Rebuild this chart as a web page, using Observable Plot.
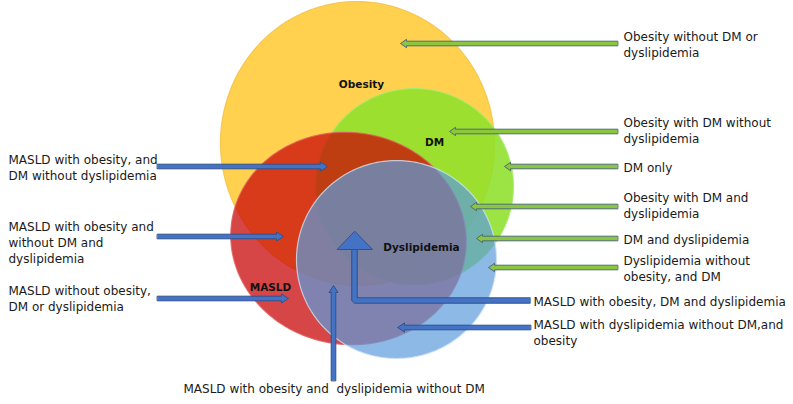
<!DOCTYPE html>
<html><head><meta charset="utf-8">
<script src="https://cdn.jsdelivr.net/npm/d3@7"></script>
<script src="https://cdn.jsdelivr.net/npm/@observablehq/plot@0.6"></script>
<style>body{margin:0;background:#fff}svg text{white-space:pre}</style>
</head><body><div id="chart"></div>
<script>
// Sets (ellipses)
const setNames = ["Obesity", "DM", "MASLD", "Dyslipidemia"];
const setCx = [357, 414, 348, 396];
const setCy = [143, 186, 238, 259];
const setRx = [137, 99, 118, 100];
const setRy = [142, 98, 106, 99];
const setRot = [4, 0, -8, 0];
const setFill = ["#ffc930", "#8ee02a", "#c90808", "#5b9bdb"];
const setOpacity = [0.85, 0.88, 0.75, 0.7];
const setEdge = ["#f3c040", "#a8ec70", "#e06060", "#cfe2f5"];
// Set title labels
const setLabelX = [361, 434, 270, 421];
const setLabelY = [84, 142, 287, 247];

// Region labels
const labelText = [
  "Obesity without DM or\ndyslipidemia",
  "Obesity with DM without\ndyslipidemia",
  "DM only",
  "Obesity with DM and\ndyslipidemia",
  "DM and dyslipidemia",
  "Dyslipidemia without\nobesity, and DM",
  "MASLD with obesity, DM and dyslipidemia",
  "MASLD with dyslipidemia without DM,and\nobesity",
  "MASLD with obesity, and\nDM without dyslipidemia",
  "MASLD with obesity and\nwithout DM and\ndyslipidemia",
  "MASLD without obesity,\nDM or dyslipidemia",
  "MASLD with obesity and  dyslipidemia without DM"
];
const labelX = [623, 623, 623, 623, 623, 623, 533, 533, 8, 8, 8, 183];
const labelY = [43, 129.5, 166, 204.5, 238, 267.5, 300, 331.5, 166, 241.5, 297, 387];

// Straight arrows: tail -> tip
const arrowX1 = [617, 617, 617, 617, 617, 617, 157, 157, 157, 530, 333];
const arrowY1 = [43, 131, 166, 206, 238, 267, 166, 236, 298, 327, 380];
const arrowX2 = [400, 449, 504, 470, 476, 488, 327, 283, 288, 397, 333];
const arrowY2 = [43, 131, 166, 206, 238, 267, 166, 236, 298, 327, 285];
const arrowKind = ["g", "g", "g", "g", "g", "g", "b", "b", "b", "b", "b"];
// Elbow arrow (MASLD with obesity, DM and dyslipidemia)
const elbowX = [530, 354, 354];
const elbowY = [300, 300, 249];
const elbowHeadX = [337, 372, 354.5];
const elbowHeadY = [249, 249, 231];

// geometry helpers
const ellipses = setNames.map((name, i) => {
  const pts = [];
  const th = setRot[i] * Math.PI / 180;
  for (let k = 0; k < 240; k++) {
    const t = 2 * Math.PI * k / 240;
    const ex = setRx[i] * Math.cos(t), ey = setRy[i] * Math.sin(t);
    pts.push({name, x: setCx[i] + ex * Math.cos(th) + ey * Math.sin(th), y: setCy[i] - ex * Math.sin(th) + ey * Math.cos(th)});
  }
  return pts;
});
function arrowPoly(id, x1, y1, x2, y2, sw, hw, hl) {
  const len = Math.hypot(x2 - x1, y2 - y1);
  const dx = (x2 - x1) / len, dy = (y2 - y1) / len;
  const nx = -dy, ny = dx;
  const bx = x2 - dx * hl, by = y2 - dy * hl;
  return [
    [x1 + nx * sw, y1 + ny * sw], [bx + nx * sw, by + ny * sw], [bx + nx * hw, by + ny * hw],
    [x2, y2], [bx - nx * hw, by - ny * hw], [bx - nx * sw, by - ny * sw], [x1 - nx * sw, y1 - ny * sw]
  ].map(([x, y]) => ({id, x, y}));
}
const greenArrows = [], blueArrows = [];
arrowX1.forEach((_, i) => {
  const g = arrowKind[i] === "g";
  const p = arrowPoly(i, arrowX1[i], arrowY1[i], arrowX2[i], arrowY2[i], 2.3, g ? 4.2 : 4.5, g ? 6 : 7);
  (g ? greenArrows : blueArrows).push(...p);
});
const elbow = elbowX.map((x, i) => ({x, y: elbowY[i]}));
const elbowHead = elbowHeadX.map((x, i) => ({x, y: elbowHeadY[i]}));

const marks = [];
ellipses.forEach((pts, i) => {
  marks.push(Plot.line(pts, {x: "x", y: "y", curve: "linear-closed", fill: setFill[i], fillOpacity: setOpacity[i], stroke: setEdge[i], strokeWidth: 1.2, strokeOpacity: 0.8}));
});
marks.push(
  Plot.text(setNames, {x: (d, i) => setLabelX[i], y: (d, i) => setLabelY[i], text: d => d, fontWeight: "bold", fontSize: 10.5, fill: "#111", fontFamily: "DejaVu Sans"}),
  Plot.line(greenArrows, {x: "x", y: "y", z: "id", curve: "linear-closed", fill: "#8cc63f", stroke: "#4f6a78", strokeWidth: 1}),
  Plot.line(blueArrows, {x: "x", y: "y", z: "id", curve: "linear-closed", fill: "#4472c4", stroke: "#2f528f", strokeWidth: 1}),
  Plot.line(elbow, {x: "x", y: "y", stroke: "#2f528f", strokeWidth: 6.6, strokeLinejoin: "miter", strokeLinecap: "butt"}),
  Plot.line(elbow, {x: "x", y: "y", stroke: "#4472c4", strokeWidth: 4.4, strokeLinejoin: "miter", strokeLinecap: "butt"}),
  Plot.line(elbowHead, {x: "x", y: "y", curve: "linear-closed", fill: "#4472c4", stroke: "#2f528f", strokeWidth: 1}),
  Plot.text(labelText, {x: (d, i) => labelX[i], y: (d, i) => labelY[i], text: d => d, textAnchor: "start", fontSize: 12, lineHeight: 1.35, fill: "#1a1a1a", fontFamily: "DejaVu Sans"})
);

const chart = Plot.plot({
  width: 793, height: 404,
  margin: 0,
  x: {domain: [0, 793], range: [0, 793], axis: null},
  y: {domain: [0, 404], range: [0, 404], axis: null},
  style: {background: "#fff"},
  marks
});
document.getElementById("chart").append(chart);
</script>
</body></html>
